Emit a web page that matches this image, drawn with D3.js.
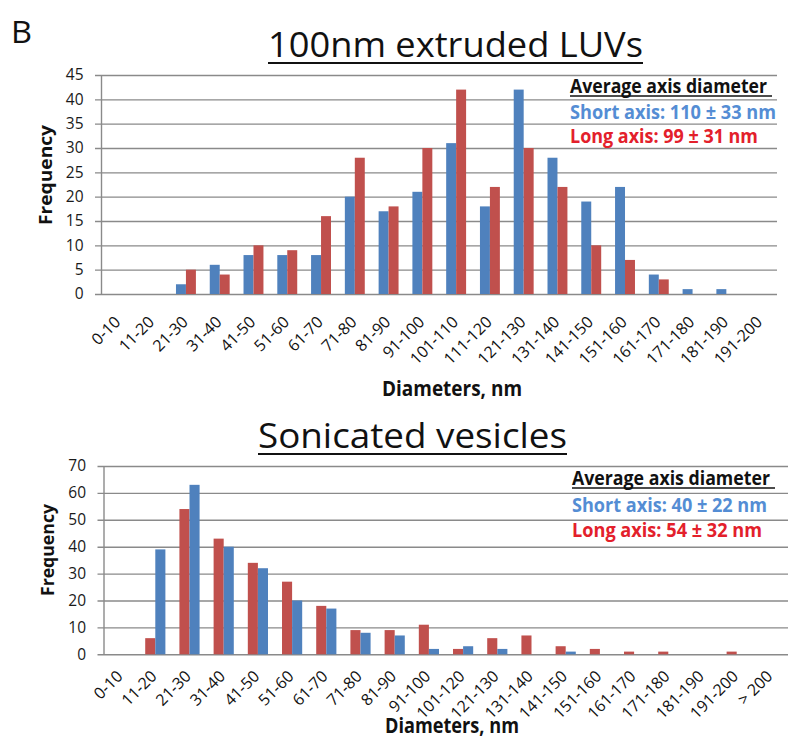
<!DOCTYPE html>
<html><head><meta charset="utf-8">
<script src="https://cdn.jsdelivr.net/npm/d3@7"></script>
<style>
body{margin:0;background:#fff}
svg{display:block}
text{font-family:"Open Sans",sans-serif}
</style>
</head><body>
<svg id="chart" width="789" height="738"></svg>
<script>
// ---------- DATA ----------
const topCategories = ["0-10","11-20","21-30","31-40","41-50","51-60","61-70","71-80","81-90","91-100","101-110","111-120","121-130","131-140","141-150","151-160","161-170","171-180","181-190","191-200"];
const topShortAxis = [0,0,2,6,8,8,8,20,17,21,31,18,42,28,19,22,4,1,1,0];
const topLongAxis  = [0,0,5,4,10,9,16,28,18,30,42,22,30,22,10,7,3,0,0,0];
const topYTicks = [0,5,10,15,20,25,30,35,40,45];

const bottomCategories = ["0-10","11-20","21-30","31-40","41-50","51-60","61-70","71-80","81-90","91-100","101-120","121-130","131-140","141-150","151-160","161-170","171-180","181-190","191-200","> 200"];
const bottomLongAxis  = [0,6,54,43,34,27,18,9,9,11,2,6,7,3,2,1,1,0,1,0];
const bottomShortAxis = [0,39,63,40,32,20,17,8,7,2,3,2,0,1,0,0,0,0,0,0];
const bottomYTicks = [0,10,20,30,40,50,60,70];

const topTitle = "100nm extruded LUVs";
const bottomTitle = "Sonicated vesicles";
const legendHeader = "Average axis diameter";
const topLegend = ["Short axis: 110 ± 33 nm","Long axis: 99 ± 31 nm"];
const bottomLegend = ["Short axis: 40 ± 22 nm","Long axis: 54 ± 32 nm"];
const yLabel = "Frequency";
const xLabel = "Diameters, nm";

// ---------- STYLE ----------
const BLUE = "#4f81bd", RED = "#c0504d";
const BLUE_TXT = "#548dd4", RED_TXT = "#e3202b";
const GRID = "#8a8a8a";

const svg = d3.select("#chart");

function fitText(sel, w){ sel.attr("textLength", w).attr("lengthAdjust","spacingAndGlyphs"); return sel; }

fitText(svg.append("text").attr("x", 11).attr("y", 43)
  .style("font-size","31px").attr("fill","#111").text("B"), 21);

function drawPanel(cfg){
  const g = svg.append("g");
  const x0 = d3.scaleBand().domain(cfg.categories).range([cfg.left, cfg.right]).paddingInner(0).paddingOuter(0);
  const y = d3.scaleLinear().domain([0, cfg.yMax]).range([cfg.base, cfg.top]);
  const bw = x0.bandwidth();
  const groupW = bw * 0.59;
  const x1 = d3.scaleBand().domain(cfg.series.map(s=>s.name)).range([(bw-groupW)/2, (bw+groupW)/2]);

  // y axis with gridlines
  const ya = g.append("g").attr("transform", `translate(${cfg.left},0)`)
    .call(d3.axisLeft(y).tickValues(cfg.yTicks).tickSizeInner(-(cfg.right-cfg.left)).tickSizeOuter(0).tickPadding(cfg.tickPad));
  ya.select(".domain").remove();
  ya.selectAll(".tick line").attr("x1", -6.5).attr("stroke", GRID).attr("stroke-width", 1.4);
  ya.selectAll(".tick text").style("font-size","15.5px").attr("fill","#1a1a1a").style("font-family","'Open Sans',sans-serif");
  g.append("line").attr("x1", cfg.left).attr("x2", cfg.left).attr("y1", cfg.top).attr("y2", cfg.base)
    .attr("stroke", GRID).attr("stroke-width", 1.4);

  // bars
  cfg.series.forEach(s => {
    g.append("g").selectAll("rect").data(s.values).join("rect")
      .attr("x", (d,i) => x0(cfg.categories[i]) + x1(s.name))
      .attr("width", x1.bandwidth())
      .attr("y", d => y(d))
      .attr("height", d => y(0) - y(d))
      .attr("fill", s.color);
  });

  // x axis labels
  const xa = g.append("g").attr("transform", `translate(0,${cfg.base})`)
    .call(d3.axisBottom(x0).tickSize(0));
  xa.select(".domain").remove();
  xa.selectAll(".tick text")
    .attr("x", 0).attr("y", 0).attr("dy", "0")
    .attr("text-anchor", "end")
    .attr("transform", `translate(${cfg.labDx},${cfg.labDy}) rotate(-45)`)
    .style("font-size","16px").attr("fill","#111").style("font-family","'Open Sans',sans-serif");

  // y label
  fitText(g.append("text")
    .attr("transform", `translate(${cfg.yLabX},${cfg.yLabY}) rotate(-90)`)
    .attr("text-anchor","middle").style("font-size","17px").style("font-weight","700").attr("fill","#111")
    .text(yLabel), cfg.yLabW);

  // x label
  fitText(g.append("text").attr("x", cfg.xLabX).attr("y", cfg.xLabY)
    .style("font-size","21px").style("font-weight","700").attr("fill","#111")
    .text(xLabel), cfg.xLabW);

  // title
  fitText(g.append("text").attr("x", cfg.titleX).attr("y", cfg.titleY)
    .style("font-size", cfg.titleSize+"px").attr("fill","#111").text(cfg.title), cfg.titleW);
  g.append("line").attr("x1", cfg.titleX).attr("x2", cfg.titleX + cfg.titleW)
    .attr("y1", cfg.titleY + 6).attr("y2", cfg.titleY + 6).attr("stroke","#111").attr("stroke-width", 2.2);

  // legend
  const L = cfg.legend;
  fitText(g.append("text").attr("x", L.x).attr("y", L.y0).style("font-size","19px").style("font-weight","700")
    .attr("fill","#111").text(legendHeader), L.w0);
  g.append("line").attr("x1", L.x).attr("x2", L.x + L.ul).attr("y1", L.y0 + 3).attr("y2", L.y0 + 3)
    .attr("stroke","#111").attr("stroke-width", 1.6);
  fitText(g.append("text").attr("x", L.x).attr("y", L.y1).style("font-size","19px").style("font-weight","700")
    .attr("fill", BLUE_TXT).text(cfg.legendText[0]), L.w1);
  fitText(g.append("text").attr("x", L.x).attr("y", L.y2).style("font-size","19px").style("font-weight","700")
    .attr("fill", RED_TXT).text(cfg.legendText[1]), L.w2);
}

drawPanel({
  categories: topCategories,
  series: [{name:"short", values: topShortAxis, color: BLUE},{name:"long", values: topLongAxis, color: RED}],
  yMax: 45, yTicks: topYTicks,
  left: 101.5, right: 777, top: 75, base: 294,
  tickPad: 18, labDx: 3, labDy: 29,
  yLabX: 52, yLabY: 175, yLabW: 100,
  xLabX: 382, xLabY: 396, xLabW: 140,
  title: topTitle, titleX: 268, titleY: 57, titleW: 375, titleSize: 34,
  legendText: topLegend,
  legend: {x: 570, y0: 93, y1: 119, y2: 143, w0: 197, w1: 206, w2: 188, ul: 202}
});

drawPanel({
  categories: bottomCategories,
  series: [{name:"long", values: bottomLongAxis, color: RED},{name:"short", values: bottomShortAxis, color: BLUE}],
  yMax: 70, yTicks: bottomYTicks,
  left: 104, right: 788, top: 466, base: 654.3,
  tickPad: 18, labDx: 2.5, labDy: 23,
  yLabX: 54, yLabY: 550, yLabW: 92,
  xLabX: 385, xLabY: 733, xLabW: 134,
  title: bottomTitle, titleX: 258, titleY: 448, titleW: 309, titleSize: 34,
  legendText: bottomLegend,
  legend: {x: 572, y0: 485, y1: 512, y2: 537, w0: 198, w1: 195, w2: 190, ul: 203}
});
</script>
</body></html>
